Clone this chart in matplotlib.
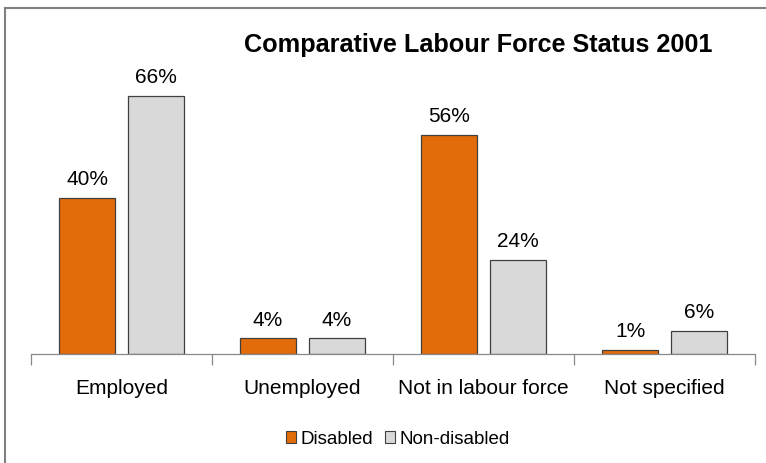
import matplotlib
matplotlib.use("Agg")
import matplotlib.pyplot as plt
from matplotlib.lines import Line2D
from matplotlib.patches import Patch
import numpy as np

categories = ["Employed", "Unemployed", "Not in labour force", "Not specified"]
disabled = [40, 4, 56, 1]
non_disabled = [66, 4, 24, 6]
series_names = ["Disabled", "Non-disabled"]
title = "Comparative Labour Force Status 2001"

plt.rcParams['font.family'] = ['Liberation Sans', 'DejaVu Sans']

W, H = 766, 464
fig = plt.figure(figsize=(W / 100, H / 100), dpi=100)
ax = fig.add_axes([31 / W, 1 - 355 / H, (755 - 31) / W, 313 / H])

orange = "#E36C0A"
grey = "#D9D9D9"
edge = "#404040"

x = np.arange(len(categories))
bw = 0.31
off = (bw + 0.07) / 2
b1 = ax.bar(x - off, disabled, bw, color=orange, edgecolor=edge, linewidth=0.9)
b2 = ax.bar(x + off, non_disabled, bw, color=grey, edgecolor=edge, linewidth=0.9)

for bars, vals in ((b1, disabled), (b2, non_disabled)):
    for r, v in zip(bars, vals):
        ax.annotate(f"{v}%", (r.get_x() + r.get_width() / 2, v), xytext=(0, 7),
                    textcoords="offset points", ha="center", va="bottom",
                    fontsize=15, color="#000000")

ax.set_xlim(-0.5, len(categories) - 0.5)
ax.set_ylim(0, 80)
ax.set_xticks(x)
ax.set_xticklabels(categories, fontsize=15)
ax.tick_params(axis='x', which='major', length=0, pad=17)
ax.set_xticks(np.arange(-0.5, len(categories)), minor=True)
ax.tick_params(axis='x', which='minor', length=8, color="#888888", width=0.9)
ax.set_yticks([])
for s in ("top", "right", "left"):
    ax.spines[s].set_visible(False)
ax.spines["bottom"].set_color("#888888")
ax.spines["bottom"].set_linewidth(0.9)

fig.text(478 / W, 1 - 45 / H, title, ha="center", va="center",
         fontsize=18.2, fontweight="bold")

handles = [Patch(facecolor=orange, edgecolor=edge, linewidth=0.8),
           Patch(facecolor=grey, edgecolor=edge, linewidth=0.8)]
fig.legend(handles, series_names, loc="center", bbox_to_anchor=(398 / W, 1 - 440 / H),
           ncol=2, frameon=False, fontsize=13.5, handlelength=0.55, handleheight=0.55,
           handletextpad=0.25, columnspacing=0.6)

border = "#808080"
fig.add_artist(Line2D([5 / W, 5 / W], [0, 1 - 9 / H], transform=fig.transFigure,
                      color=border, linewidth=1.5))
fig.add_artist(Line2D([5 / W, 1], [1 - 9 / H, 1 - 9 / H], transform=fig.transFigure,
                      color=border, linewidth=1.5))

fig.savefig("out.png", dpi=100)
